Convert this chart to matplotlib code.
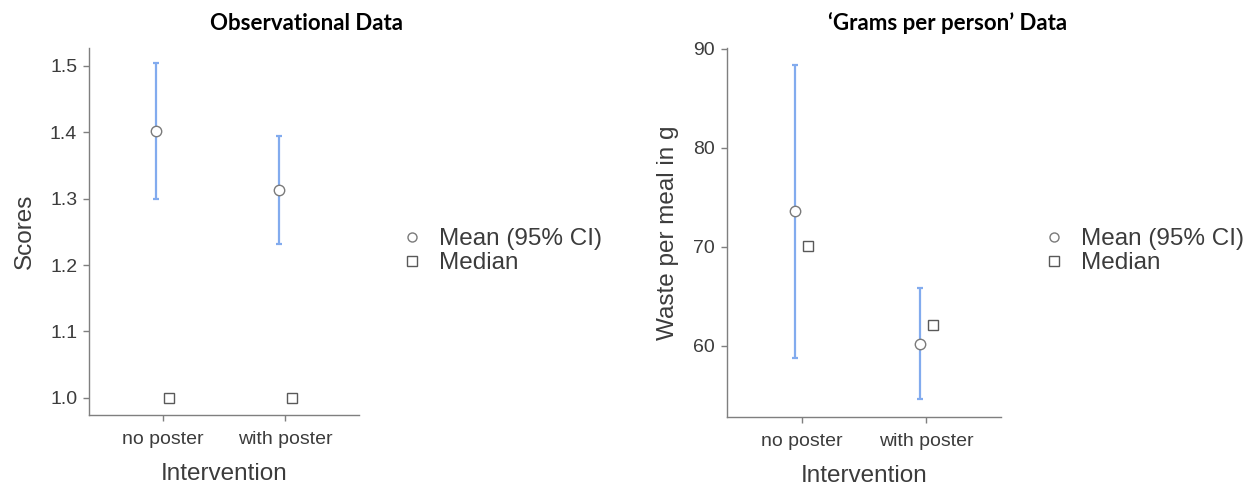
import matplotlib
matplotlib.use("Agg")
import matplotlib.pyplot as plt
from matplotlib.lines import Line2D
import numpy as np

# Data
groups = ["no poster", "with poster"]

obs_mean = [1.402, 1.313]
obs_lo = [1.300, 1.232]
obs_hi = [1.505, 1.395]
obs_median = [1.0, 1.0]

gram_mean = [73.6, 60.2]
gram_lo = [58.7, 54.6]
gram_hi = [88.4, 65.8]
gram_median = [70.1, 62.1]

plt.rcParams["font.family"] = ["Liberation Sans", "DejaVu Sans"]

W, H = 1257, 486
DPI = 100
fig = plt.figure(figsize=(W / DPI, H / DPI), dpi=DPI)

CI_COLOR = "#82abee"
SPINE = "#7f7f7f"
TEXT = "#3c3c3c"
DODGE = 0.053


def px_axes(left, right, top, bottom):
    return fig.add_axes([left / W, (H - bottom) / H, (right - left) / W, (bottom - top) / H])


def draw_panel(ax, mean, lo, hi, median, ylabel, ylim, yticks, ytick_fmt):
    x = np.arange(len(groups))
    mean = np.asarray(mean)
    err = [mean - np.asarray(lo), np.asarray(hi) - mean]
    ax.errorbar(x - DODGE, mean, yerr=err, fmt="none", ecolor=CI_COLOR,
                elinewidth=1.6, capsize=2.2, capthick=1.6, zorder=2)
    ax.plot(x - DODGE, mean, "o", ms=7.5, mfc="white", mec="#7a7a7a", mew=1.0, zorder=3)
    ax.plot(x + DODGE, median, "s", ms=7.2, mfc="white", mec="#595959", mew=1.0, zorder=3)

    ax.set_xlim(-0.6, 1.6)
    ax.set_ylim(*ylim)
    ax.set_xticks(x)
    ax.set_xticklabels(groups)
    ax.set_yticks(yticks)
    ax.set_yticklabels([ytick_fmt.format(v) for v in yticks])

    for side in ("top", "right"):
        ax.spines[side].set_visible(False)
    for side in ("left", "bottom"):
        ax.spines[side].set_color(SPINE)
        ax.spines[side].set_linewidth(1.0)
    ax.tick_params(axis="both", colors=SPINE, length=4.5, width=1.0, pad=4,
                   labelsize=14, labelcolor=TEXT)
    ax.tick_params(axis="x", pad=7)
    ax.set_xlabel("Intervention", fontsize=17.5, color=TEXT, labelpad=11)
    ax.set_ylabel(ylabel, fontsize=17.5, color=TEXT, labelpad=10)


def add_legend(x_px, y_px):
    handles = [
        Line2D([], [], ls="none", marker="o", ms=6.5, mfc="white", mec="#7a7a7a", mew=1.0),
        Line2D([], [], ls="none", marker="s", ms=6.5, mfc="white", mec="#595959", mew=1.0),
    ]
    fig.legend(handles, ["Mean (95% CI)", "Median"], loc="upper left",
               bbox_to_anchor=(x_px / W, (H - y_px) / H), bbox_transform=fig.transFigure,
               frameon=False, handlelength=1.0, handletextpad=0.6, labelspacing=0.1,
               borderpad=0, borderaxespad=0, prop={"size": 17.5}, labelcolor=TEXT)


# Observational data
ax1 = px_axes(89, 359, 48, 415)
draw_panel(ax1, obs_mean, obs_lo, obs_hi, obs_median, "Scores",
           (0.974, 1.527), [1.0, 1.1, 1.2, 1.3, 1.4, 1.5], "{:.1f}")
fig.text(306 / W, 1 - 23 / H, "Observational Data", ha="center", va="center",
         fontsize=16, fontweight="bold", family="Lato", color="black")
add_legend(400, 228)

# Grams per person data
ax2 = px_axes(726.7, 1001, 48, 416.7)
draw_panel(ax2, gram_mean, gram_lo, gram_hi, gram_median, "Waste per meal in g",
           (52.8, 90.1), [60, 70, 80, 90], "{:.0f}")
fig.text(948 / W, 1 - 23 / H, "\u2018Grams per person\u2019 Data", ha="center", va="center",
         fontsize=16, fontweight="bold", family="Lato", color="black")
add_legend(1042, 228)

fig.savefig("out.png", dpi=DPI)
